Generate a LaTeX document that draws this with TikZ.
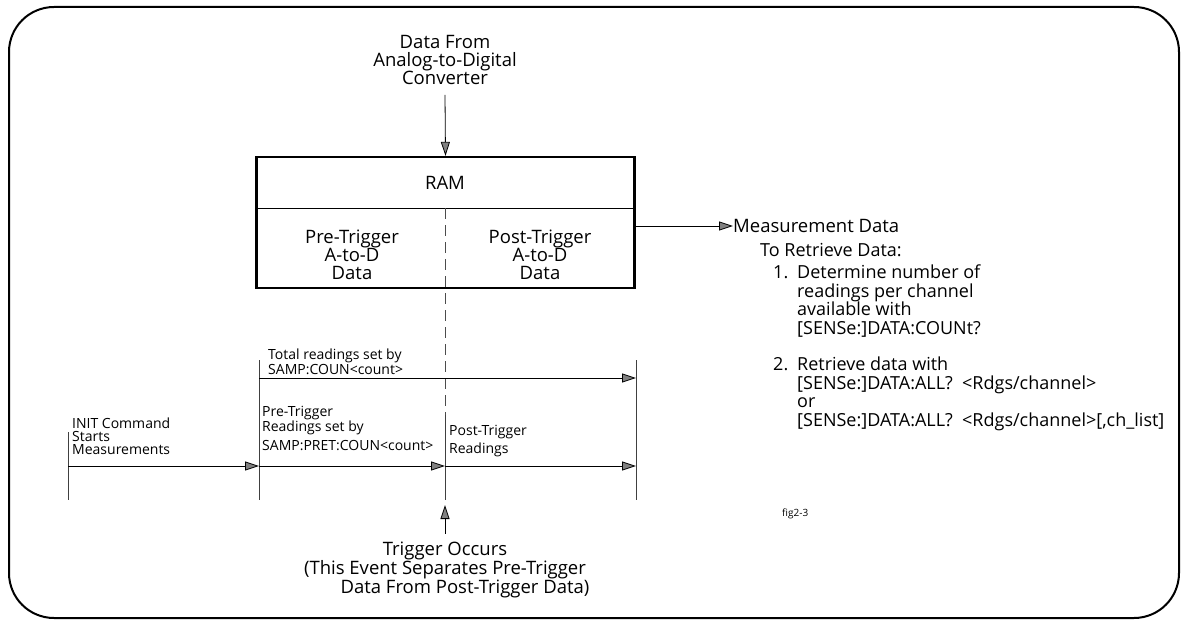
\documentclass[tikz,border=0pt]{standalone}
\usepackage{fontspec}
\setmainfont{Open Sans}
\usetikzlibrary{arrows.meta}
\usetikzlibrary{positioning}

\begin{document}
\begin{tikzpicture}
      [x=1pt,y=-1pt,
       bigText/.style={font=\fontsize{18.5}{18}\selectfont,inner sep=0pt,align=center},
       stepText/.style={font=\fontsize{18}{18.5}\selectfont,inner sep=0pt,align=left,anchor=north west},
       smallText/.style={font=\fontsize{14}{13}\selectfont,inner sep=0pt,align=left,anchor=north west},
       arrowLine/.style={line width=0.8pt,-{Triangle[length=14pt,width=9pt,fill=gray]}},
       tickLine/.style={line width=0.8pt,black!75}]
      \useasboundingbox (0,0) rectangle (1184,623);
      \draw[line width=2pt,rounded corners=45pt] (9,7) rectangle (1179,618);

      % RAM block
      \node[draw,line width=2.2pt,minimum width=378pt,minimum height=131pt,inner sep=0pt] (ram) at (445.5,222.5) {};
      \node[bigText] (ramLabel) at (445,183) {RAM};
      \coordinate (divL) at (256.5,208);
      \coordinate (divR) at (634.5,208);
      \draw[line width=0.8pt] (divL) -- (divR);
      \node[bigText] (preData) at (352,255) {Pre-Trigger\\A-to-D\\Data};
      \node[bigText] (postData) at (540,255) {Post-Trigger\\A-to-D\\Data};

      % data in and out
      \node[bigText] (adc) at (445,60) {Data From\\Analog-to-Digital\\Converter};
      \draw[arrowLine] ([yshift=-10pt]adc.south) -- (ram.north);
      \node[bigText,anchor=west] (measData) at (733,226) {Measurement Data};
      \draw[arrowLine] (ram.east |- measData.west) -- (measData.west);

      % retrieving the data
      \node[stepText] (retrieve) at (760,243) {To Retrieve Data:};
      \node[stepText] (numOne) at (773,265) {1.};
      \node[stepText] (stepOne) at (797,265) {Determine number of\\readings per channel\\available with\\{[}SENSe:{]}DATA:COUNt?};
      \node[stepText] (numTwo) at (773,357) {2.};
      \node[stepText] (stepTwo) at (797,357) {Retrieve data with\\{[}SENSe:{]}DATA:ALL?\ \ <Rdgs/channel>\\or\\{[}SENSe:{]}DATA:ALL?\ \ <Rdgs/channel>{[},ch\_list{]}};
      \node[font=\fontsize{10}{12}\selectfont,anchor=west,inner sep=0pt] (figNo) at (782,514) {fig2-3};

      % time line
      \coordinate (initStart) at (68,466);
      \coordinate (preStart) at (259,466);
      \coordinate (trigPoint) at (445,466);
      \coordinate (postEnd) at (636,466);
      \coordinate (totalStart) at (259,378);
      \coordinate (totalEnd) at (636,378);
      \draw[tickLine] (68,432) -- (68,500);
      \draw[tickLine] (259,360) -- (259,500);
      \draw[tickLine] (636,360) -- (636,500);
      \draw[tickLine] (445,415) -- (445,500);
      \draw[line width=0.8pt,black!70,dash pattern=on 11pt off 6pt] (445,208) -- (445,415);
      \draw[arrowLine] (totalStart) -- (totalEnd);
      \draw[arrowLine] (initStart) -- (preStart);
      \draw[arrowLine] (preStart) -- (trigPoint);
      \draw[arrowLine] (trigPoint) -- (postEnd);

      \node[smallText] (totalText) at (268,349) {Total readings set by\\SAMP:COUN<count>};
      \node[smallText] (initText) at (72,418) {INIT Command\\Starts\\Measurements};
      \node[smallText] (preText) at (262,406) {Pre-Trigger\\Readings set by\\[5pt]SAMP:PRET:COUN<count>};
      \node[smallText] (postText) at (449,425) {Post-Trigger\\[3pt]Readings};

      % trigger
      \node[bigText] (trigText) at (445,570) {Trigger Occurs\\(This Event Separates Pre-Trigger\\\hspace*{40pt}Data From Post-Trigger Data)};
      \coordinate (trigTip) at (445,505);
      \draw[arrowLine] ([yshift=8pt]trigText.north) -- (trigTip);
    \end{tikzpicture}
\end{document}
